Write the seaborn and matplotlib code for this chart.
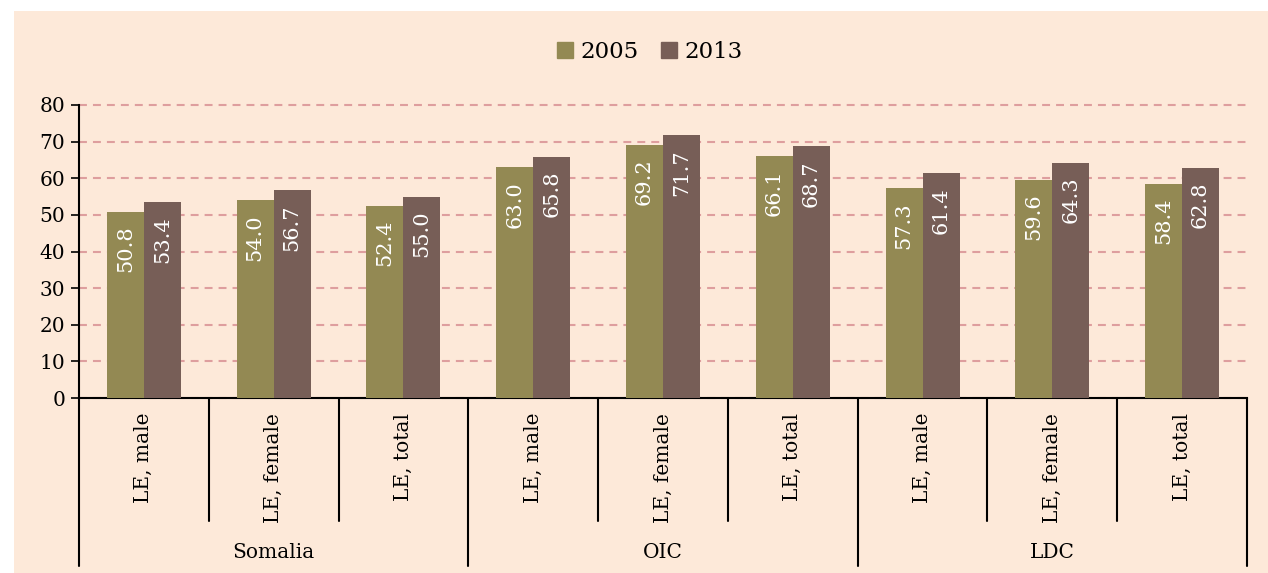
import numpy as np
import pandas as pd
import matplotlib
matplotlib.use("Agg")
import matplotlib.pyplot as plt
from matplotlib.patches import Rectangle
import seaborn as sns

# Valeurs
groups = ["Somalia", "OIC", "LDC"]
indicators = ["LE, male", "LE, female", "LE, total"]
years = ["2005", "2013"]
values_2005 = [50.8, 54.0, 52.4, 63.0, 69.2, 66.1, 57.3, 59.6, 58.4]
values_2013 = [53.4, 56.7, 55.0, 65.8, 71.7, 68.7, 61.4, 64.3, 62.8]
y_ticks = [0, 10, 20, 30, 40, 50, 60, 70, 80]

bg_color = "#FDE9D9"
bar_colors = ["#938953", "#775E57"]
grid_color = "#DE9E9E"

# Table longue pour seaborn
keys = [f"{g}|{ind}" for g in groups for ind in indicators]
df = pd.DataFrame({
    "key": keys * 2,
    "year": [years[0]] * len(keys) + [years[1]] * len(keys),
    "value": values_2005 + values_2013,
})

sns.set_style("white")
plt.rcParams["font.family"] = ["DejaVu Serif"]
plt.rcParams["text.color"] = "black"
plt.rcParams["ytick.labelcolor"] = "black"

fig = plt.figure(figsize=(12.68, 5.73), dpi=100, facecolor="white")
fig.patches.append(Rectangle((14 / 1268, 0), 1, 1 - 11 / 573,
                             transform=fig.transFigure, facecolor=bg_color,
                             edgecolor="none", zorder=-10))
ax = fig.add_axes([79 / 1268, 1 - 398 / 573, (1247 - 79) / 1268, (398 - 105) / 573])
ax.set_facecolor("none")

sns.barplot(data=df, x="key", y="value", hue="year", order=keys,
            palette=bar_colors, saturation=1, width=0.57, linewidth=0, ax=ax, zorder=3)

# Etiquettes des barres
for container in ax.containers:
    for patch in container:
        h = patch.get_height()
        ax.annotate(f"{h:.1f}", (patch.get_x() + patch.get_width() / 2, h),
                    xytext=(0, -10), textcoords="offset points",
                    rotation=90, ha="center", va="top",
                    color="white", fontsize=15, zorder=4)

ax.set_ylim(0, 80)
ax.set_xlim(-0.5, len(keys) - 0.5)
ax.set_yticks(y_ticks)
ax.tick_params(axis="y", direction="out", length=6, width=1.2, labelsize=14.5, pad=4,
               color="black", labelcolor="black", left=True)
ax.yaxis.grid(True, color=grid_color, linewidth=1.5, linestyle=(0, (3.8, 2.9)), zorder=0)
for gl in ax.get_ygridlines():
    gl.set_clip_on(False)
ax.set_axisbelow(True)
for s in ["top", "right"]:
    ax.spines[s].set_visible(False)
for s in ["left", "bottom"]:
    ax.spines[s].set_color("black")
    ax.spines[s].set_linewidth(1.5)

ax.set_xticks([])
ax.set_xlabel("")
ax.set_ylabel("")

# Axe multi-niveaux
trans = ax.get_xaxis_transform()
for i in range(len(keys) + 1):
    x = i - 0.5
    bottom = -0.573 if i % 3 == 0 else -0.42
    ax.plot([x, x], [0, bottom], transform=trans, color="black", lw=1.5, clip_on=False)
for i, k in enumerate(keys):
    ax.text(i, -0.05, k.split("|")[1], transform=trans, rotation=90,
            ha="center", va="top", fontsize=14.5)
for j, g in enumerate(groups):
    ax.text(3 * j + 1, -0.526, g, transform=trans, ha="center", va="center", fontsize=14.5)

ax.get_legend().remove()
handles = [Rectangle((0, 0), 1, 1, color=c) for c in bar_colors]
fig.legend(handles, years, loc="center", bbox_to_anchor=(650 / 1268, 1 - 52 / 573),
           ncol=2, frameon=False, fontsize=16.5, handlelength=0.7, handleheight=0.7,
           handletextpad=0.3, columnspacing=1.0)

fig.savefig("out.png", dpi=100, facecolor="white")
